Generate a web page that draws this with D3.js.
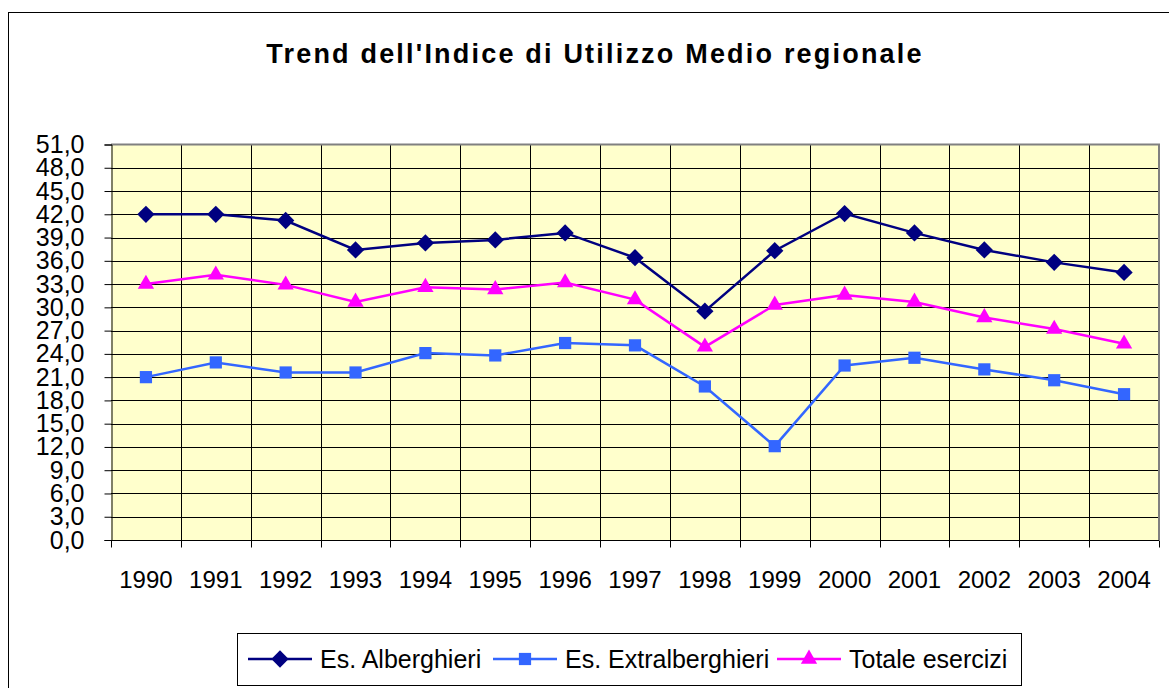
<!DOCTYPE html>
<html>
<head>
<meta charset="utf-8">
<script src="https://cdn.jsdelivr.net/npm/d3@7"></script>
<style>
  body { margin: 0; background: #fff; }
  text { font-family: "Liberation Sans", Arial, sans-serif; fill: #000; }
</style>
</head>
<body>
<svg id="chart" width="1169" height="688"></svg>
<script>
// data
const years = ['1990','1991','1992','1993','1994','1995','1996','1997','1998','1999','2000','2001','2002','2003','2004'];
const alberghieri = [42.0, 42.0, 41.2, 37.4, 38.3, 38.7, 39.6, 36.4, 29.5, 37.3, 42.1, 39.6, 37.4, 35.8, 34.5];
const extralberghieri = [21.0, 22.9, 21.6, 21.6, 24.1, 23.8, 25.4, 25.1, 19.8, 12.1, 22.5, 23.5, 22.0, 20.6, 18.8];
const totale = [33.0, 34.2, 32.9, 30.7, 32.6, 32.3, 33.2, 31.0, 24.9, 30.3, 31.6, 30.7, 28.7, 27.2, 25.3];
const yTicks = d3.range(0, 52, 3);

const series = [
  { name: 'Es. Alberghieri', values: alberghieri, color: '#000080', marker: d3.symbolDiamond2 },
  { name: 'Es. Extralberghieri', values: extralberghieri, color: '#3366FF', marker: d3.symbolSquare2 },
  { name: 'Totale esercizi', values: totale, color: '#FF00FF', marker: d3.symbolTriangle2 }
];

const svg = d3.select('#chart');
const plot = { left: 111, right: 1159, top: 144.5, bottom: 540 };

// outer chart frame (runs past the picture on the right and bottom)
svg.append('rect')
  .attr('x', 8.5).attr('y', 12.5)
  .attr('width', 1300).attr('height', 800)
  .attr('fill', '#fff').attr('stroke', '#000').attr('stroke-width', 1);

// title
svg.append('text')
  .attr('x', 595).attr('y', 63)
  .attr('text-anchor', 'middle')
  .style('font-size', '27px').style('font-weight', 'bold')
  .style('letter-spacing', '2.2px')
  .text("Trend dell'Indice di Utilizzo Medio regionale");

const xScale = d3.scaleBand()
  .domain(years)
  .range([plot.left, plot.right]);

const yScale = d3.scaleLinear()
  .domain([0, 51])
  .range([plot.bottom, plot.top]);

// plot background
svg.append('rect')
  .attr('x', plot.left).attr('y', plot.top)
  .attr('width', plot.right - plot.left).attr('height', plot.bottom - plot.top)
  .attr('fill', '#FFFFCC');

//horizontal grid
svg.append('g')
  .selectAll('line').data(yTicks.filter(d => d > 0 && d < 51))
  .enter().append('line')
    .attr('x1', plot.left).attr('x2', plot.right)
    .attr('y1', d => Math.round(yScale(d)) + 0.5)
    .attr('y2', d => Math.round(yScale(d)) + 0.5)
    .attr('stroke', '#000').attr('stroke-width', 1);

//vertical grid on category boundaries
svg.append('g')
  .selectAll('line').data(years.slice(1))
  .enter().append('line')
    .attr('x1', d => Math.round(xScale(d)) + 0.5)
    .attr('x2', d => Math.round(xScale(d)) + 0.5)
    .attr('y1', plot.top).attr('y2', plot.bottom)
    .attr('stroke', '#000').attr('stroke-width', 1);

// grey frame top and right
svg.append('path')
  .attr('d', `M${plot.left},${plot.top}H${plot.right}V${plot.bottom}`)
  .attr('fill', 'none').attr('stroke', '#808080').attr('stroke-width', 2);

// y axis
const yAxis = d3.axisLeft(yScale)
  .tickValues(yTicks)
  .tickSize(7)
  .tickPadding(20)
  .tickFormat(d => d3.format('.1f')(d).replace('.', ','));

const yAxisG = svg.append('g')
  .attr('transform', `translate(${plot.left + 0.5},0)`)
  .call(yAxis);
yAxisG.selectAll('text')
  .style('font-size', '25px')
  .style('font-family', '"Liberation Sans", Arial, sans-serif')
  .attr('fill', '#000');
yAxisG.selectAll('line').attr('stroke', '#000');
yAxisG.select('.domain').attr('stroke', '#000');

// x axis: ticks at boundaries, labels in the middle of each band
const xAxisG = svg.append('g')
  .attr('transform', `translate(0,${plot.bottom + 0.5})`);
xAxisG.append('line')
  .attr('x1', plot.left).attr('x2', plot.right)
  .attr('stroke', '#000');
xAxisG.selectAll('.tick')
  .data(years.concat(['end']))
  .enter().append('line')
    .attr('class', 'tick')
    .attr('x1', (d, i) => Math.round(plot.left + i * xScale.bandwidth()) + 0.5)
    .attr('x2', (d, i) => Math.round(plot.left + i * xScale.bandwidth()) + 0.5)
    .attr('y1', 0).attr('y2', 7)
    .attr('stroke', '#000');
xAxisG.selectAll('.label')
  .data(years)
  .enter().append('text')
    .attr('class', 'label')
    .attr('x', d => xScale(d) + xScale.bandwidth() / 2)
    .attr('y', 47)
    .attr('text-anchor', 'middle')
    .style('font-size', '24px')
    .text(d => d);

// lines and markers
const line = d3.line()
  .x((d, i) => xScale(years[i]) + xScale.bandwidth() / 2)
  .y(d => yScale(d));

series.forEach(s => {
  svg.append('path')
    .datum(s.values)
    .attr('d', line)
    .attr('fill', 'none')
    .attr('stroke', s.color)
    .attr('stroke-width', 2.5);

  svg.append('g')
    .selectAll('path').data(s.values)
    .enter().append('path')
      .attr('transform', (d, i) => `translate(${xScale(years[i]) + xScale.bandwidth() / 2},${yScale(d)})`)
      .attr('d', d3.symbol().type(s.marker).size(190))
      .attr('fill', s.color);
});

// legend
const legend = svg.append('g');
legend.append('rect')
  .attr('x', 237.5).attr('y', 633.5)
  .attr('width', 784).attr('height', 52)
  .attr('fill', '#fff').attr('stroke', '#000').attr('stroke-width', 1);

const legendX = [248, 493, 777];
series.forEach((s, i) => {
  const g = legend.append('g').attr('transform', `translate(${legendX[i]},659)`);
  g.append('line')
    .attr('x1', 0).attr('x2', 64)
    .attr('stroke', s.color).attr('stroke-width', 2.5);
  g.append('path')
    .attr('transform', 'translate(32,0)')
    .attr('d', d3.symbol().type(s.marker).size(190))
    .attr('fill', s.color);
  g.append('text')
    .attr('x', 72).attr('y', 9)
    .style('font-size', '25px')
    .text(s.name);
});
</script>
</body>
</html>
